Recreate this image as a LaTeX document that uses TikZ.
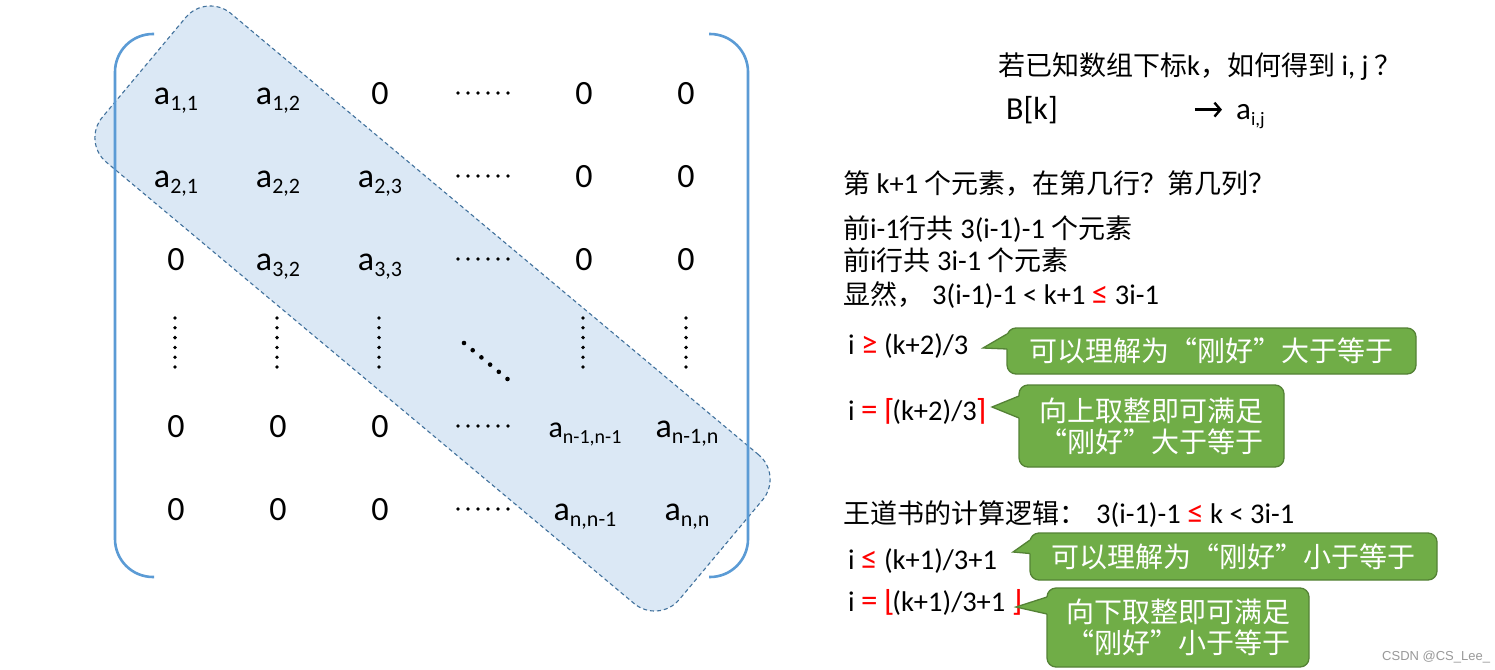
\documentclass[tikz,border=0pt]{standalone}
\usepackage{fontspec}
\setmainfont{Carlito}
\newfontfamily\cjk{Noto Sans CJK SC}
\newfontfamily\symf{DejaVu Sans}
\newfontfamily\wmfont{Liberation Sans}
\usetikzlibrary{arrows.meta,calc}
\definecolor{bandfill}{HTML}{DBE8F5}
\definecolor{bandline}{HTML}{41719C}
\definecolor{bracketblue}{HTML}{5B9BD5}
\definecolor{notefill}{HTML}{70AD47}
\definecolor{noteline}{HTML}{548235}
\newcommand\fs[1]{\fontsize{#1}{#1}\selectfont}
% matrix element: a letter a with a lowered index
\newcommand\elem[3]{{\fs{#2}a\raisebox{-0.2em}{\fs{#3}#1}}}
\newcommand\red[1]{\textcolor{red}{#1}}
% Chinese run inside a Latin line
\newcommand\zh[1]{{\cjk\fs{27}#1}}
% red relation sign, a little larger than the text
\newcommand\rel[1]{\textcolor{red}{\fs{33}#1}}
% red ceiling / floor bracket
\newcommand\brk[1]{\textcolor{red}{\symf\fs{29}#1}}
% pointed tail of a note: node, tip, top and bottom offsets on its west side
\newcommand\callwedge[4]{%
  \fill[notefill] ($(#1.west)+(2.5,#3)$) -- ($(#1.west)+(0,#3)$) -- (#2)
    -- ($(#1.west)+(0,#4)$) -- ($(#1.west)+(2.5,#4)$) -- cycle;
  \draw[noteline, line width=1.3pt, line join=miter]
    ($(#1.west)+(0,#3)$) -- (#2) -- ($(#1.west)+(0,#4)$);}
\tikzset{
  band/.style={draw=bandline, fill=bandfill, line width=1.1pt,
    dash pattern=on 4pt off 3pt, rounded corners=32pt, inner sep=0pt, outer sep=0pt},
  bracket/.style={draw=bracketblue, line width=2.6pt, rounded corners=38pt},
  ent/.style={anchor=base, inner sep=0pt, font=\fs{34}},
  rtxt/.style={anchor=base west, inner sep=0pt, font=\fs{28.5}},
  note/.style={fill=notefill, draw=noteline, line width=1.3pt, rounded corners=9pt,
    text=white, font=\cjk\fontsize{28}{31}\selectfont, align=center,
    inner sep=0pt, outer sep=0pt},
  maparrow/.style={-{Straight Barb[length=6pt,width=14pt]}, line width=2.4pt}
}
\begin{document}
\begin{tikzpicture}[x=1pt,y=-1pt]
\fill[white] (0,0) rectangle (1495,669);
\useasboundingbox (0,0) rectangle (1495,669);

% highlighted tridiagonal band
\node[band, rotate=-39.9, minimum width=752pt, minimum height=194pt] (band) at (432.5,308.5) {};

% matrix brackets
\draw[bracket] (154,34) -- (115,34) -- (115,577) -- (154,577);
\draw[bracket] (709,34) -- (748,34) -- (748,577) -- (709,577);

% row 1
\node[ent] (m11) at (176,104) {\elem{1,1}{34}{22}};
\node[ent] (m12) at (278,104) {\elem{1,2}{34}{22}};
\node[ent] (m13) at (380,104) {0};
\node[ent] (m15) at (584,104) {0};
\node[ent] (m16) at (686,104) {0};
% row 2
\node[ent] (m21) at (176,187) {\elem{2,1}{34}{22}};
\node[ent] (m22) at (278,187) {\elem{2,2}{34}{22}};
\node[ent] (m23) at (380,187) {\elem{2,3}{34}{22}};
\node[ent] (m25) at (584,187) {0};
\node[ent] (m26) at (686,187) {0};
% row 3
\node[ent] (m31) at (176,270) {0};
\node[ent] (m32) at (278,270) {\elem{3,2}{34}{22}};
\node[ent] (m33) at (380,270) {\elem{3,3}{34}{22}};
\node[ent] (m35) at (584,270) {0};
\node[ent] (m36) at (686,270) {0};
% row n-1
\node[ent] (m51) at (176,437) {0};
\node[ent] (m52) at (278,437) {0};
\node[ent] (m53) at (380,437) {0};
\node[ent] (m55) at (585,437) {\elem{n-1,n-1}{30}{20}};
\node[ent] (m56) at (687,437) {\elem{n-1,n}{34}{22}};
% row n
\node[ent] (m61) at (176,520) {0};
\node[ent] (m62) at (278,520) {0};
\node[ent] (m63) at (380,520) {0};
\node[ent] (m65) at (585,520) {\elem{n,n-1}{34}{22}};
\node[ent] (m66) at (687,520) {\elem{n,n}{34}{22}};

% horizontal ellipses
\foreach \y in {93,176,259,426,509}
  \foreach \k in {0,...,5}
    \fill (458+10*\k,\y) circle[radius=1.8pt];
% vertical ellipses
\foreach \x in {175,277,379,583,686}
  \foreach \k in {0,...,5}
    \fill (\x,318+9.8*\k) circle[radius=1.9pt];
% diagonal ellipsis
\foreach \k in {0,...,5}
  \fill (464+8.7*\k,343+7.2*\k) circle[radius=2.3pt];

% question and index mapping
\node[rtxt] (q1) at (998,75) {\zh{若已知数组下标}k\zh{，如何得到} i, j \zh{？}};
\node[rtxt, font=\fs{32}] (bk) at (1006,119) {B[k]};
\node[rtxt] (aij) at (1236,119) {\elem{i,j}{31}{19}};
\draw[maparrow, shorten <=137pt, shorten >=14pt] (bk.east) -- (bk.east -| aij.west);

% reasoning
\node[rtxt] (q2) at (843,193) {\zh{第} k+1 \zh{个元素，在第几行？第几列？}};
\node[rtxt] (q3) at (843,238) {\zh{前}i-1\zh{行共} 3(i-1)-1 \zh{个元素}};
\node[rtxt] (q4) at (843,270) {\zh{前}i\zh{行共} 3i-1 \zh{个元素}};
\node[rtxt] (q5) at (843,304) {\zh{显然，}\hspace{8pt}3(i-1)-1 < k+1 \rel{≤} 3i-1};
\node[rtxt] (q6) at (848,354) {i \rel{≥} (k+2)/3};
\node[rtxt] (q7) at (848,420) {i \rel{=} \brk{⌈}\kern-3pt(k+2)/3\kern-1pt\brk{⌉}};
\node[rtxt] (q8) at (843,523) {\zh{王道书的计算逻辑：}\hspace{10pt}3(i-1)-1 \rel{≤} k < 3i-1};
\node[rtxt] (q9) at (848,569) {i \rel{≤} (k+1)/3+1};
\node[rtxt] (q10) at (848,611) {i \rel{=} \brk{⌊}\kern-3pt(k+1)/3+1 \brk{⌋}};

% notes
\node[note, minimum width=409pt, minimum height=46pt] (c1) at (1211.5,351)
  {可以理解为“刚好”大于等于};
\node[note, minimum width=265pt, minimum height=82pt] (c2) at (1151.5,426)
  {向上取整即可满足\\“刚好”大于等于};
\node[note, minimum width=407pt, minimum height=47pt] (c3) at (1233.5,556.5)
  {可以理解为“刚好”小于等于};
\node[note, minimum width=262pt, minimum height=79pt] (c4) at (1178,627.5)
  {向下取整即可满足\\“刚好”小于等于};
\coordinate (t1) at (983,348);
\coordinate (t2) at (992,407);
\coordinate (t3) at (1013,552);
\coordinate (t4) at (1016,607);
\callwedge{c1}{t1}{-17}{-2}
\callwedge{c2}{t2}{-30}{-8}
\callwedge{c3}{t3}{-16.5}{-3}
\callwedge{c4}{t4}{-30.5}{-13.5}

\node[anchor=base west, inner sep=0pt, font=\wmfont\fs{13}, text=black!40] (wm) at (1382,660) {CSDN @CS\_Lee\_};
\end{tikzpicture}
\end{document}
